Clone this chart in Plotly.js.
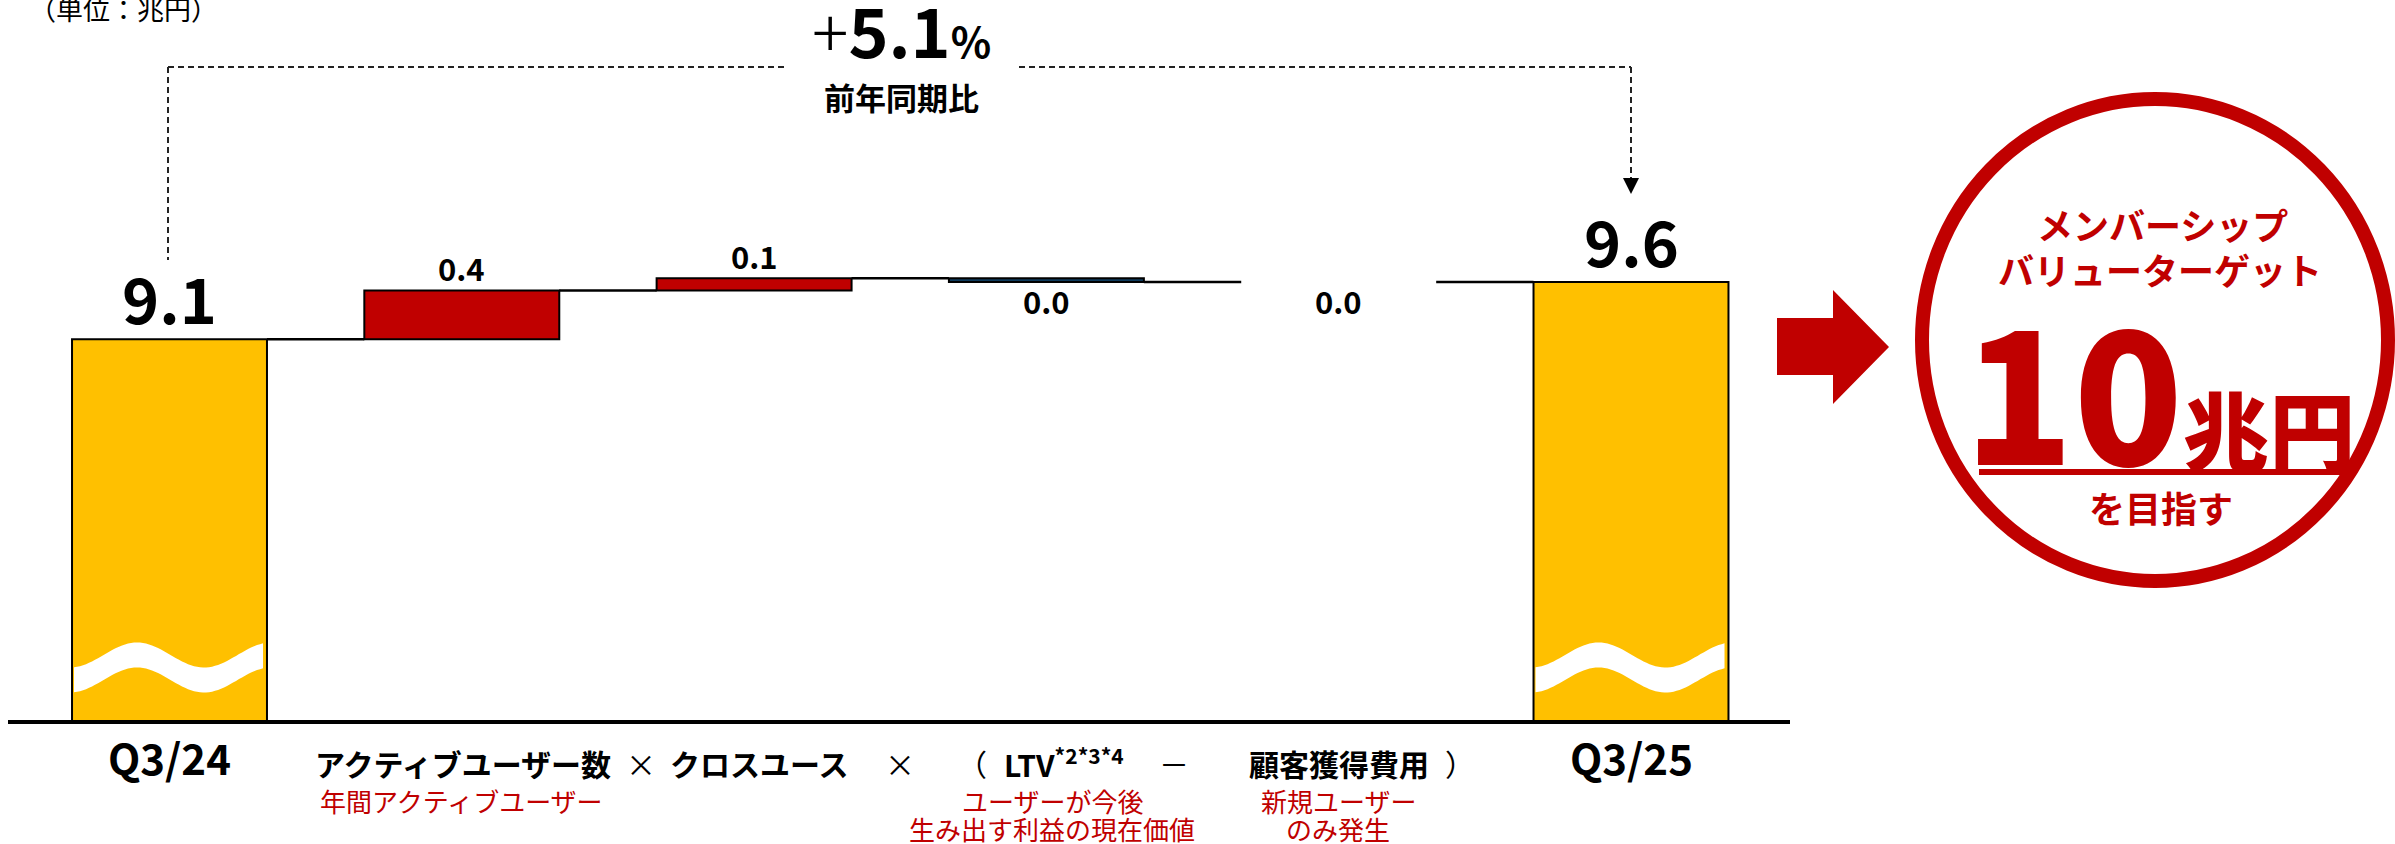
<!DOCTYPE html>
<html><head><meta charset="utf-8">
<script src="https://cdn.plot.ly/plotly-3.0.1.min.js"></script>
<style>html,body{margin:0;padding:0;background:#fff;}#chart{width:2395px;height:844px;}</style>
</head><body><div id="chart"></div>
<script>
// ---- data ----
const categories = ['Q3/24', 'アクティブユーザー数', 'クロスユース', 'LTV', '顧客獲得費用', 'Q3/25'];
const measures = ['total', 'relative', 'relative', 'relative', 'relative', 'total'];
const values = [9.12, 0.40, 0.10, -0.03, 0.00, 9.59];
const valueLabels = ['9.1', '0.4', '0.1', '0.0', '0.0', '9.6'];
const unitLabel = '（単位：兆円）';
const growthValue = '5.1';
const growthCaption = '前年同期比';
const formulaMain = ['アクティブユーザー数', '×', 'クロスユース', '×', '（', 'LTV<sup>*2*3*4</sup>', '－', '顧客獲得費用', '）'];
const formulaSubs = [['年間アクティブユーザー'], ['ユーザーが今後', '生み出す利益の現在価値'], ['新規ユーザー', 'のみ発生']];
const targetTitle = ['メンバーシップ', 'バリューターゲット'];
const targetNumber = '10';
const targetUnit = '兆円';
const targetCaption = 'を目指す';

// ---- geometry ----
const W = 2395, H = 844, L = 8, R = 605, T = 0, B = 124;
const PW = W - L - R, PH = H - T - B;
const XPX = 292.3;            // px per category
const YPX = 122;              // px per 兆円
const YMIN = 6.0;
const X0 = -(169.5 - L) / XPX;
const BARW = 0.667;
const JP = '"Noto Sans CJK JP", "Noto Sans", sans-serif';
const RED = '#C00000', YEL = '#FFC000', NAVY = '#0E3A5C';

const px = v => (v - L) / PW;
const py = v => (PH + T - v) / PH;

// ---- waterfall computation ----
const xs = categories.map((c, i) => i);
const bases = [], heights = [], ends = [];
let cum = 0;
values.forEach((v, i) => {
  if (measures[i] === 'total') { bases.push(0); heights.push(v); cum = v; }
  else { bases.push(cum); heights.push(v); cum += v; }
  ends.push(cum);
});
const colors = values.map((v, i) => measures[i] === 'total' ? YEL : (v > 0 ? RED : (v < 0 ? NAVY : 'rgba(0,0,0,0)')));
const lineW = values.map((v, i) => (measures[i] !== 'total' && v === 0) ? 0 : 2);

const barTrace = {
  type: 'bar', x: xs, y: heights, base: bases, width: BARW,
  marker: { color: colors, line: { color: '#000', width: lineW } },
  text: categories, hoverinfo: 'text', textposition: 'none', showlegend: false
};

const cx = [], cy = [];
for (let i = 0; i < values.length - 1; i++) {
  cx.push(i + BARW / 2, i + 1 - BARW / 2, null);
  cy.push(ends[i], ends[i], null);
}
const connTrace = { type: 'scatter', mode: 'lines', x: cx, y: cy, line: { color: '#000', width: 2.5 }, hoverinfo: 'skip', showlegend: false };

// ---- annotations ----
const annotations = [];
function txt(text, x, y, size, opt) {
  opt = opt || {};
  annotations.push(Object.assign({
    xref: 'paper', yref: 'paper', x: px(x), y: py(y), xanchor: 'center', yanchor: 'middle',
    showarrow: false, text: text,
    font: { family: JP, size: size, color: opt.color || '#000', weight: opt.weight || 400 }
  }, opt.extra || {}));
}

// value labels
values.forEach((v, i) => {
  const top = Math.max(bases[i], bases[i] + heights[i]);
  const bot = Math.min(bases[i], bases[i] + heights[i]);
  let y, shift, size;
  if (measures[i] === 'total') { y = top; shift = 43; size = 63; }
  else if (v > 0) { y = top; shift = 23; size = 31; }
  else { y = bot; shift = -18; size = 31; }
  annotations.push({
    xref: 'x', yref: 'y', x: i, y: y, yshift: shift, xanchor: 'center', yanchor: 'middle',
    showarrow: false, text: valueLabels[i],
    font: { family: JP, size: size, color: '#000', weight: 700 }
  });
});

// category labels (period)
[0, 5].forEach(i => {
  annotations.push({
    xref: 'x', yref: 'paper', x: i, y: py(756), xanchor: 'center', yanchor: 'middle',
    showarrow: false, text: categories[i], font: { family: JP, size: 42, color: '#000', weight: 700 }
  });
});

// formula line
const fPos = [463, 641, 759, 900, 972, 1064, 1174, 1339, 1460];
const fBold = [1, 0, 1, 0, 0, 1, 0, 1, 0];
formulaMain.forEach((t, k) => txt(t, fPos[k], 763, 30, { weight: fBold[k] ? 700 : 400 }));
const subX = [461, 1052, 1338];
formulaSubs.forEach((lines, k) => lines.forEach((t, j) => txt(t, subX[k], 800 + 29 * j, 26, { color: RED })));

// unit
txt(unitLabel, 123, 9, 27, {});

// growth
txt('<span style="font-weight:300">+</span>' + growthValue + '<span style="font-size:42px">%</span>', 901, 29, 68, { weight: 700 });
txt(growthCaption, 901, 97, 31, { weight: 700 });

// target circle texts
txt(targetTitle[0], 2162, 224, 36, { color: RED, weight: 700 });
txt(targetTitle[1], 2160, 269, 36, { color: RED, weight: 700 });
txt(targetNumber + '<span style="font-size:86px">' + targetUnit + '</span>', 2159, 386, 180, { color: RED, weight: 900 });
txt(targetCaption, 2161, 507, 36, { color: RED, weight: 700 });

// ---- shapes ----
const shapes = [];
const dash = { color: '#222', width: 2, dash: '6px,4px' };
function seg(x0, y0, x1, y1, line) {
  shapes.push({ type: 'line', xref: 'paper', yref: 'paper', x0: px(x0), y0: py(y0), x1: px(x1), y1: py(y1), line: line });
}
seg(168, 67, 168, 260, dash);
seg(168, 67, 786, 67, dash);
seg(1019, 67, 1631, 67, dash);
seg(1631, 67, 1631, 180, dash);
function poly(pts, fill) {
  const d = pts.map((p, k) => (k ? 'L' : 'M') + px(p[0]) + ',' + py(p[1])).join(' ') + ' Z';
  shapes.push({ type: 'path', xref: 'paper', yref: 'paper', path: d, fillcolor: fill, line: { width: 0 } });
}
poly([[1623, 178], [1639, 178], [1631, 194]], '#000');
// big arrow
poly([[1777, 318], [1833, 318], [1833, 290], [1889, 347], [1833, 404], [1833, 375], [1777, 375]], RED);
// circle
shapes.push({ type: 'circle', xref: 'paper', yref: 'paper', x0: px(2155 - 233), x1: px(2155 + 233), y0: py(340 + 241), y1: py(340 - 241), line: { color: RED, width: 14 }, fillcolor: 'rgba(0,0,0,0)' });
// underline
poly([[1979, 469], [2343, 469], [2343, 475], [1979, 475]], RED);

// wave breaks on total bars
function wave(i) {
  const left = i - BARW / 2;
  const top = [], bot = [];
  for (let t = 2; t <= 193; t += 3) {
    const c = 667.5 + 12.5 * Math.cos(2 * Math.PI * (t + 2) / 134);
    const xd = left + t / XPX;
    top.push([xd, YMIN + (PH - (c - 12.5)) / YPX]);
    bot.push([xd, YMIN + (PH - (c + 12.5)) / YPX]);
  }
  const pts = top.concat(bot.reverse());
  const d = pts.map((p, k) => (k ? 'L' : 'M') + p[0] + ',' + p[1]).join(' ') + ' Z';
  shapes.push({ type: 'path', xref: 'x', yref: 'y', path: d, fillcolor: '#fff', line: { width: 0 }, layer: 'above' });
}
measures.forEach((m, i) => { if (m === 'total') wave(i); });

const layout = {
  width: W, height: H, margin: { l: L, r: R, t: T, b: B, pad: 0 },
  paper_bgcolor: '#fff', plot_bgcolor: '#fff', showlegend: false, bargap: 0,
  xaxis: { range: [X0, X0 + PW / XPX], showgrid: false, zeroline: false, showticklabels: false, ticks: '',
           showline: true, linecolor: '#000', linewidth: 4, fixedrange: true },
  yaxis: { range: [YMIN, YMIN + PH / YPX], visible: false, showgrid: false, zeroline: false, fixedrange: true },
  annotations: annotations, shapes: shapes,
  font: { family: JP }
};
Plotly.newPlot('chart', [barTrace, connTrace], layout, { displayModeBar: false, staticPlot: true });
</script></body></html>
